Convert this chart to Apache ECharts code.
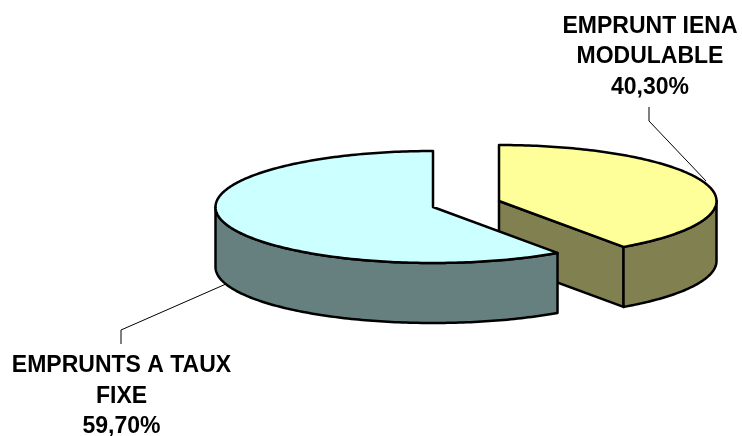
<!DOCTYPE html>
<html>
<head>
<meta charset="utf-8">
<style>html,body{margin:0;padding:0;background:#fff}#c{width:742px;height:436px}</style>
<script src="https://cdn.jsdelivr.net/npm/echarts@6/dist/echarts.min.js"></script>
</head>
<body>
<div id="c"></div>
<script>
var categories = ['EMPRUNT IENA\nMODULABLE', 'EMPRUNTS A TAUX\nFIXE'];
var shares = [40.3, 59.7];
var topColors = ['#FFFF99', '#CCFFFF'];
var sideColors = ['#808050', '#668080'];

// Per-slice layout of the exploded pseudo-3D pie
var RX = 217.5, RY = 56, DEPTH = 60;
var sliceCenters = [[499, 201], [433, 207]];
var labelAnchors = [[650, 57], [121.5, 396.5]];
var leaders = [
  [[649, 107], [649, 121], [706, 181]],
  [[121, 344], [121, 330], [226, 284]]
];

var total = shares.reduce(function (a, b) { return a + b; }, 0);

function pt(c, deg, dy) {
  var t = deg * Math.PI / 180;
  return [c[0] + RX * Math.sin(t), c[1] - RY * Math.cos(t) + (dy || 0)];
}
function arc(c, a, b, dy) {
  var out = [], n = Math.max(2, Math.ceil(Math.abs(b - a)));
  for (var i = 0; i <= n; i++) out.push(pt(c, a + (b - a) * i / n, dy));
  return out;
}
var stroke = { stroke: '#000', lineWidth: 2.5, lineJoin: 'round' };
function poly(points, fill) {
  return { type: 'polygon', shape: { points: points },
    style: Object.assign({ fill: fill }, stroke) };
}

function renderItem(params, api) {
  var i = params.dataIndex, value = api.value(0);
  var before = 0;
  for (var k = 0; k < i; k++) before += shares[k];
  var a0 = before / total * 360, a1 = (before + value) / total * 360;
  var c = sliceCenters[i], kids = [];
  var side = sideColors[i], top = topColors[i];

  // cut face running from the centre to the lower edge, when it faces the viewer
  if (a1 > 90 && a1 < 180) {
    var tip = pt(c, a1);
    kids.push(poly([[c[0], c[1]], tip, [tip[0], tip[1] + DEPTH], [c[0], c[1] + DEPTH]], side));
  }
  // outer wall: the part of the rim on the front half of the ellipse
  var s0 = Math.max(a0, 90), s1 = Math.min(a1, 270);
  if (s1 > s0) {
    kids.push(poly(arc(c, s0, s1).concat(arc(c, s1, s0, DEPTH)), side));
  }
  // top surface
  kids.push(poly([[c[0], c[1]]].concat(arc(c, a0, a1)), top));

  // leader line
  kids.push({ type: 'polyline', shape: { points: leaders[i] },
    style: { fill: null, stroke: '#000', lineWidth: 1 } });
  // label
  kids.push({ type: 'text', style: {
    x: labelAnchors[i][0], y: labelAnchors[i][1],
    text: categories[i] + '\n' + value.toFixed(2).replace('.', ',') + '%',
    font: 'bold 23px "Liberation Sans", Arial, sans-serif',
    fill: '#000', align: 'center', verticalAlign: 'middle', lineHeight: 30.5
  } });
  return { type: 'group', children: kids };
}

var chart = echarts.init(document.getElementById('c'), null, { renderer: 'canvas' });
chart.setOption({
  animation: false,
  backgroundColor: '#fff',
  series: [{
    type: 'custom',
    coordinateSystem: 'none',
    renderItem: renderItem,
    data: shares.map(function (v, i) { return { name: categories[i], value: [v] }; })
  }]
});
</script>
</body>
</html>
